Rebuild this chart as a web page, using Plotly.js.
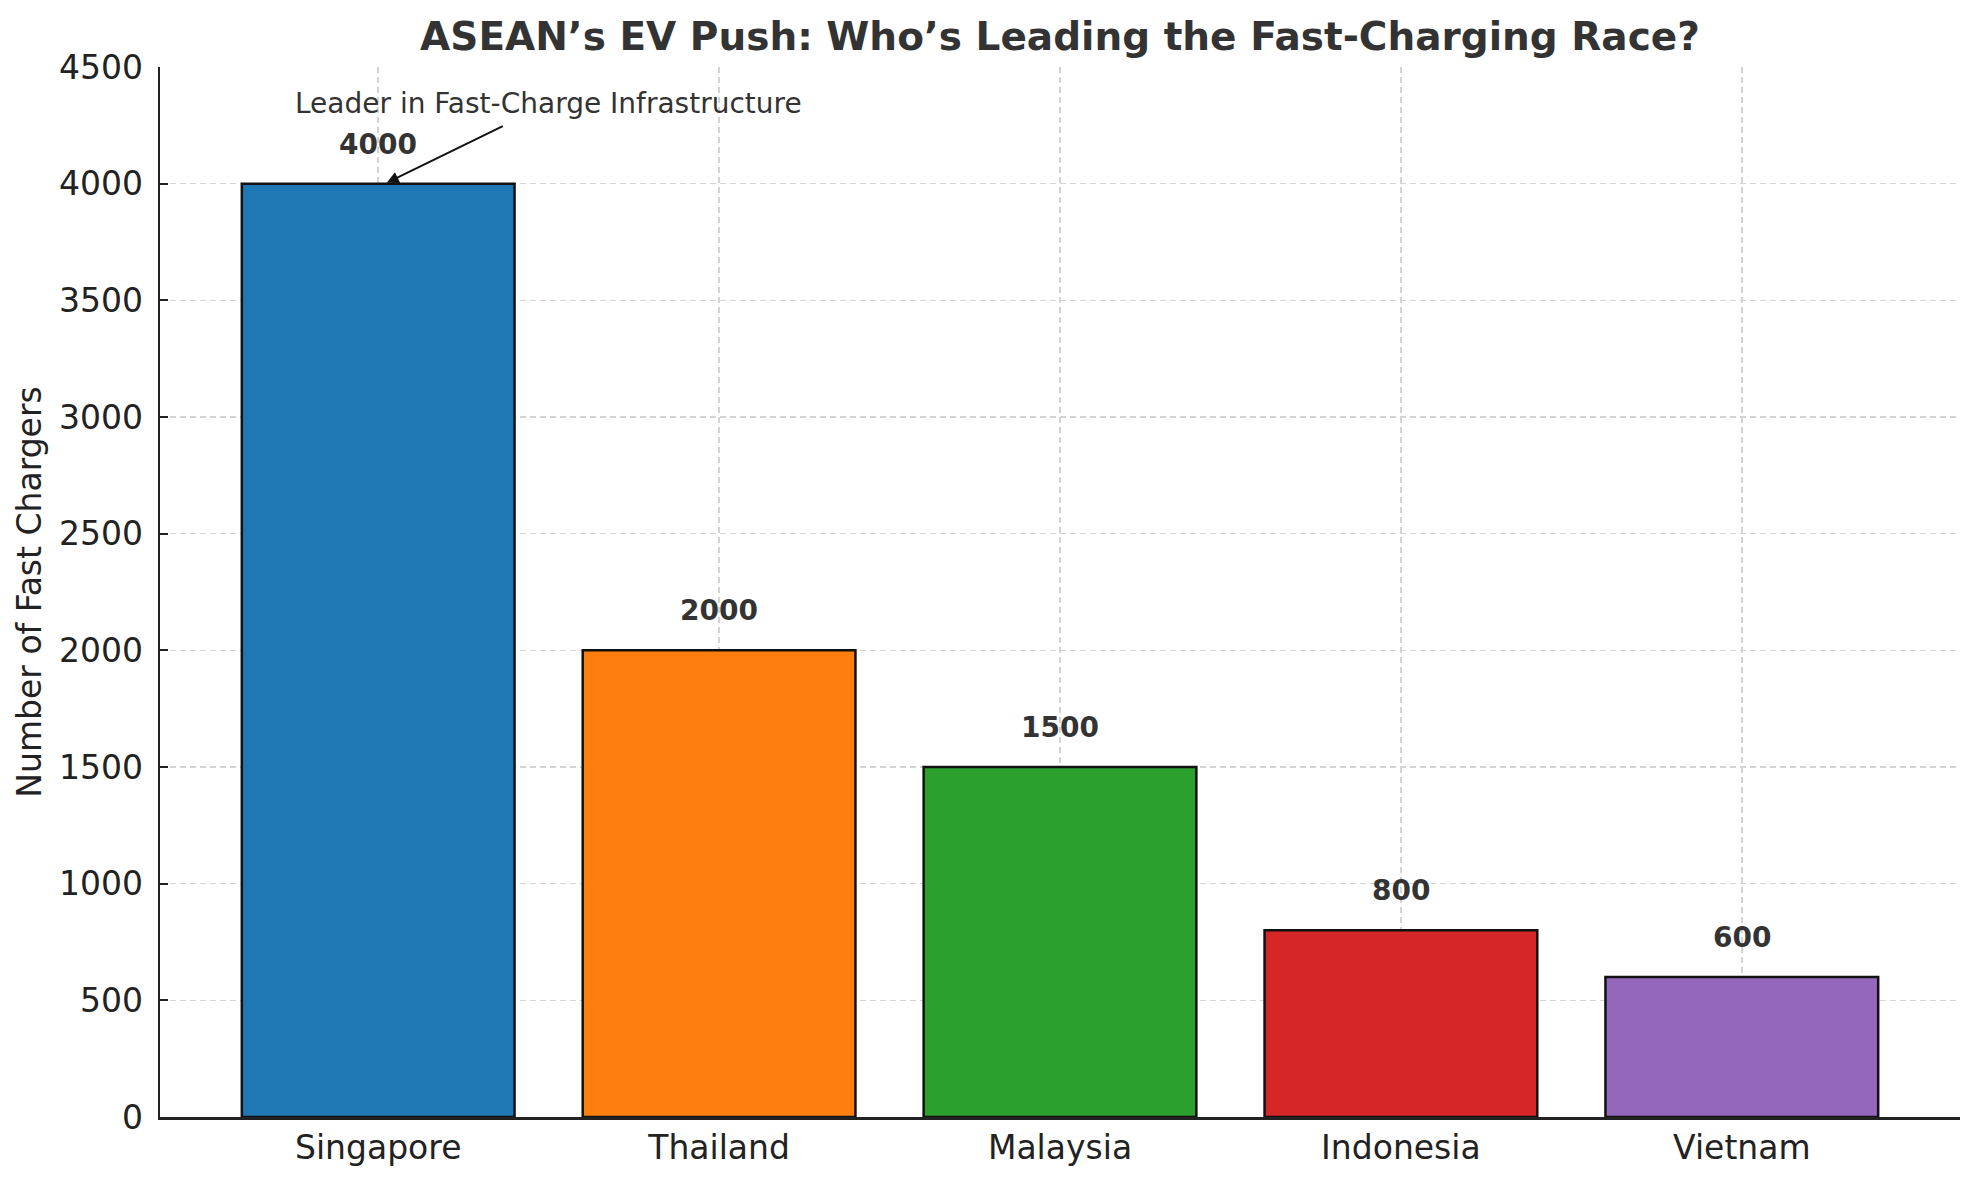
<!DOCTYPE html>
<html>
<head>
<meta charset="utf-8">
<script src="https://cdn.plot.ly/plotly-3.0.1.min.js"></script>
<style>
  html, body { margin: 0; padding: 0; background: #fff; }
  #chart { width: 1979px; height: 1180px; }
</style>
</head>
<body>
<div id="chart"></div>
<script>
// chart data
const countries = ['Singapore', 'Thailand', 'Malaysia', 'Indonesia', 'Vietnam'];
const fastChargers = [4000, 2000, 1500, 800, 600];
const barColors = ['#1f77b4', '#ff7f0e', '#2ca02c', '#d62728', '#9467bd'];
const yTicks = [0, 500, 1000, 1500, 2000, 2500, 3000, 3500, 4000, 4500];

const FONT = 'DejaVu Sans, Verdana, sans-serif';

const bars = {
    type: 'bar',
    x: countries,
    y: fastChargers,
    width: 0.8,
    marker: {
        color: barColors,
        line: { color: '#111', width: 2.5 }
    },
    hoverinfo: 'x+y'
};

// value labels above each bar
const valueLabels = countries.map((c, i) => ({
    x: c,
    y: fastChargers[i],
    xref: 'x',
    yref: 'y',
    text: String(fastChargers[i]),
    showarrow: false,
    yanchor: 'bottom',
    yshift: 21,
    font: { family: FONT, size: 28, color: '#333', weight: 'bold' }
}));

// callout on the leader: text and arrow drawn separately
const leaderText = {
    x: 0.5,
    y: 4343,
    xref: 'x',
    yref: 'y',
    text: 'Leader in Fast-Charge Infrastructure',
    showarrow: false,
    font: { family: FONT, size: 28, color: '#333' }
};
const leaderArrow = {
    x: 0.02,
    y: fastChargers[0],
    xref: 'x',
    yref: 'y',
    ax: 0.37,
    ay: 4250,
    axref: 'x',
    ayref: 'y',
    text: '',
    showarrow: true,
    arrowhead: 2,
    arrowsize: 1.2,
    arrowwidth: 2,
    arrowcolor: '#111',
    standoff: 2
};

const layout = {
    width: 1979,
    height: 1180,
    paper_bgcolor: '#fff',
    plot_bgcolor: '#fff',
    margin: { l: 160, r: 19, t: 67, b: 63 },
    showlegend: false,
    bargap: 0.2,
    title: {
        text: '<b>ASEAN’s EV Push: Who’s Leading the Fast-Charging Race?</b>',
        font: { family: FONT, size: 39, color: '#333' },
        x: 0.5,
        xref: 'paper',
        y: 1 - 36 / 1180,
        yref: 'container',
        yanchor: 'middle'
    },
    xaxis: {
        type: 'category',
        range: [-0.64, 4.64],
        showline: true,
        linecolor: '#222',
        linewidth: 2.5,
        showgrid: true,
        gridcolor: '#d4d4d4',
        gridwidth: 1.5,
        griddash: '6px,4px',
        ticks: '',
        tickfont: { family: FONT, size: 33, color: '#222' },
        zeroline: false
    },
    yaxis: {
        range: [0, 4500],
        tickvals: yTicks,
        ticktext: yTicks.map(String),
        showline: true,
        linecolor: '#222',
        linewidth: 2.5,
        showgrid: true,
        gridcolor: '#d4d4d4',
        gridwidth: 1.5,
        griddash: '6px,4px',
        ticks: 'inside',
        ticklen: 8,
        tickwidth: 2,
        tickcolor: '#222',
        ticklabelstandoff: 8,
        zeroline: false,
        tickfont: { family: FONT, size: 33, color: '#222' },
        title: {
            text: 'Number of Fast Chargers',
            font: { family: FONT, size: 33, color: '#222' },
            standoff: 8
        }
    },
    annotations: valueLabels.concat([leaderText, leaderArrow])
};

Plotly.newPlot('chart', [bars], layout, { displayModeBar: false, staticPlot: true });
</script>
</body>
</html>
